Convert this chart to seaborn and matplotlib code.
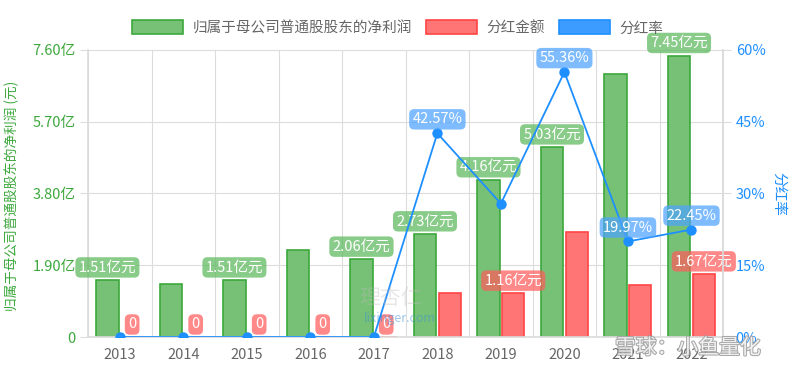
import pandas as pd
import matplotlib
matplotlib.use('Agg')
import matplotlib.pyplot as plt
import matplotlib.patheffects as pe
from matplotlib.patches import Patch
import seaborn as sns

# 数据
years = ['2013', '2014', '2015', '2016', '2017', '2018', '2019', '2020', '2021', '2022']
net_profit = [1.51, 1.40, 1.51, 2.30, 2.06, 2.73, 4.16, 5.03, 6.96, 7.45]      # 亿元
dividend = [0, 0, 0, 0, 0, 1.16, 1.16, 2.785, 1.39, 1.67]                      # 亿元
payout = [0, 0, 0, 0, 0, 42.57, 27.88, 55.36, 19.97, 22.45]                    # %
show_profit = [1, 0, 1, 0, 1, 1, 1, 1, 0, 1]
show_dividend = [1, 1, 1, 1, 1, 0, 1, 0, 0, 1]
show_payout = [0, 0, 0, 0, 0, 1, 0, 1, 1, 1]

s_profit = '归属于母公司普通股股东的净利润'
s_div = '分红金额'
s_rate = '分红率'
left_ticks = [0, 1.9, 3.8, 5.7, 7.6]
left_labels = ['0', '1.90亿', '3.80亿', '5.70亿', '7.60亿']
right_ticks = [0, 15, 30, 45, 60]
right_labels = ['0%', '15%', '30%', '45%', '60%']

GREEN, GREEN_E = '#77c177', '#3ca83c'
RED, RED_E = '#ff7474', '#ff4444'
BLUE = '#1e8fff'
GRID = '#dcdcdc'

sns.set_theme(style='white')
plt.rcParams['font.family'] = ['Noto Sans CJK SC', 'DejaVu Sans']
plt.rcParams['axes.unicode_minus'] = False

df = pd.DataFrame({
    'year': years * 2,
    'series': [s_profit] * len(years) + [s_div] * len(years),
    'value': net_profit + dividend,
})

fig = plt.figure(figsize=(8, 3.72), dpi=100)
ax = fig.add_axes([0.11, 0.094, 0.794, 0.772])

sns.barplot(data=df, x='year', y='value', hue='series', hue_order=[s_profit, s_div],
            palette=[GREEN, RED], saturation=1, width=0.78, gap=0.1, legend=False,
            ax=ax, zorder=2)
for bar in ax.containers[0]:
    bar.set_edgecolor(GREEN_E)
    bar.set_linewidth(1.2)
for bar in ax.containers[1]:
    bar.set_edgecolor(RED_E)
    bar.set_linewidth(1.2)

ax.set_ylim(0, 7.6)
ax.set_xlim(-0.5, len(years) - 0.5)
ax.set_yticks(left_ticks)
ax.set_yticklabels(left_labels)
ax.tick_params(axis='y', colors=GREEN_E, labelsize=10.5, length=6, width=0.8, pad=3)
ax.tick_params(axis='y', which='major', color=GRID)
ax.set_xticks(range(len(years)))
ax.set_xticklabels(years)
ax.set_xticks([i - 0.5 for i in range(len(years) + 1)], minor=True)
ax.tick_params(axis='x', which='major', length=0, pad=8, labelsize=10.5, labelcolor='#666666')
ax.tick_params(axis='x', which='minor', length=6, width=0.8, color=GRID)
ax.grid(axis='y', which='major', color=GRID, linewidth=0.8, zorder=0)
ax.grid(axis='x', which='minor', color=GRID, linewidth=0.8, zorder=0)
ax.set_axisbelow(True)
ax.set_xlabel('')
ax.set_ylabel(s_profit + ' (元)', color=GREEN_E, fontsize=9.8)
ax.yaxis.set_label_coords(-0.108, 0.49)
for side in ['left', 'bottom', 'right']:
    ax.spines[side].set_color(GRID)
ax.spines['top'].set_visible(False)


def tag(axis, x, y, text, color, dy=3):
    axis.annotate(text, (x, y), xytext=(0, dy), textcoords='offset points',
                  ha='center', va='bottom', color='white', fontsize=10.5, zorder=6,
                  annotation_clip=False,
                  bbox=dict(boxstyle='round,pad=0.22,rounding_size=0.35', fc=color,
                            ec='none', alpha=0.72))


for bar, v, s in zip(ax.containers[0], net_profit, show_profit):
    if s:
        tag(ax, bar.get_x() + bar.get_width() / 2, v, f'{v:.2f}亿元', '#5cb85c', dy=4)
for bar, v, s in zip(ax.containers[1], dividend, show_dividend):
    if s:
        txt = '0' if v == 0 else f'{v:.2f}亿元'
        tag(ax, bar.get_x() + bar.get_width() / 2, v, txt, '#ff5c5c', dy=4)

# 分红率
ax2 = ax.twinx()
sns.pointplot(x=years, y=payout, ax=ax2, color=BLUE, markers='o', markersize=6.5,
              linewidth=1.3, zorder=4)
ax2.set_ylim(0, 60)
ax2.set_xlim(-0.5, len(years) - 0.5)
ax2.set_yticks(right_ticks)
ax2.set_yticklabels(right_labels)
ax2.tick_params(axis='y', colors=GRID, labelcolor=BLUE, labelsize=10.5, length=6, width=0.8, pad=3)
ax2.set_ylabel(s_rate, color=BLUE, fontsize=10.5, rotation=270)
ax2.yaxis.set_label_coords(1.098, 0.5)
for side in ax2.spines:
    ax2.spines[side].set_visible(False)
ax2.spines['right'].set_visible(True)
ax2.spines['right'].set_color(GRID)
for i, (v, s) in enumerate(zip(payout, show_payout)):
    if s:
        tag(ax2, i, v, f'{v:.2f}%', '#4da3ff', dy=5)

# 图例
handles = [Patch(fc=GREEN, ec=GREEN_E, lw=1.2), Patch(fc=RED, ec=RED_E, lw=1.2),
           Patch(fc='#3d9cff', ec=BLUE, lw=1.2)]
fig.legend(handles, [s_profit, s_div, s_rate], loc='center', ncol=3,
           bbox_to_anchor=(0.497, 0.925), frameon=False, fontsize=10.5,
           handlelength=3.5, handleheight=1.1, columnspacing=1.0, handletextpad=0.6,
           labelcolor='#666666')

# 水印
fig.text(0.488, 0.2, '理杏仁', fontsize=15, color='#bbbbbb', alpha=0.35, ha='center', va='center')
fig.text(0.5, 0.145, 'lixinger.com', fontsize=9, color='#3b8fd6', alpha=0.5, ha='center', va='center')
fig.text(0.86, 0.065, '雪球：小鱼量化', fontsize=15, color='white', alpha=0.85, ha='center', va='center',
         path_effects=[pe.withStroke(linewidth=1.5, foreground='#999999')])

fig.savefig('out.png', dpi=100)
